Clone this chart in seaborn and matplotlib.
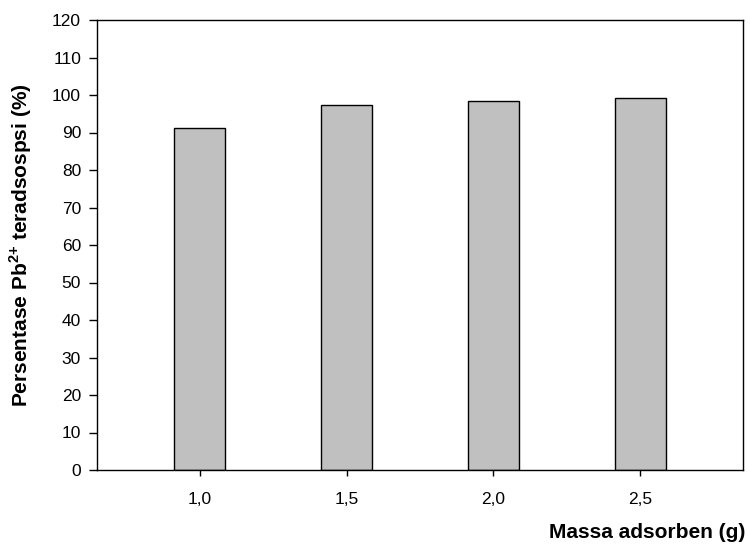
import numpy as np
import pandas as pd
import seaborn as sns
import matplotlib.pyplot as plt

# data
massa = ["1,0", "1,5", "2,0", "2,5"]
persen = [91.3, 97.4, 98.5, 99.3]

df = pd.DataFrame({"massa": massa, "persen": persen})

sns.set_style("ticks")
plt.rcParams['font.family'] = ['Liberation Sans', 'DejaVu Sans']
plt.rcParams['mathtext.fontset'] = 'custom'
plt.rcParams['mathtext.rm'] = 'Liberation Sans'
plt.rcParams['mathtext.bf'] = 'Liberation Sans:bold'
plt.rcParams['text.color'] = 'black'
plt.rcParams['axes.labelcolor'] = 'black'

fig = plt.figure(figsize=(7.5, 5.47), dpi=100)
ax = fig.add_axes([97/750, 1 - 470/547, (743 - 97)/750, 450/547])

sns.barplot(data=df, x="massa", y="persen", color="#c0c0c0", width=0.35,
            edgecolor="black", linewidth=1.0, saturation=1, ax=ax)

ax.set_xlim(-0.7, 3.7)
ax.set_ylim(0, 120)
ax.set_yticks(np.arange(0, 121, 10))
for s in ax.spines.values():
    s.set_color("black")
    s.set_linewidth(1.0)
ax.tick_params(axis="both", colors="black", labelsize=12.5, width=1.0)
ax.tick_params(axis="y", length=6, pad=5.5)
ax.tick_params(axis="x", length=4, pad=11.5)

ax.set_xlabel("")
ax.set_ylabel(r"Persentase Pb$^{\bf{2{+}}}$ teradsospsi (%)", fontsize=15,
              fontweight="bold", labelpad=13, color="black")
fig.text(745/750, 1 - 532/547, "Massa adsorben (g)", fontsize=15,
         fontweight="bold", ha="right", va="center", color="black")

plt.savefig("out.png", dpi=100)
